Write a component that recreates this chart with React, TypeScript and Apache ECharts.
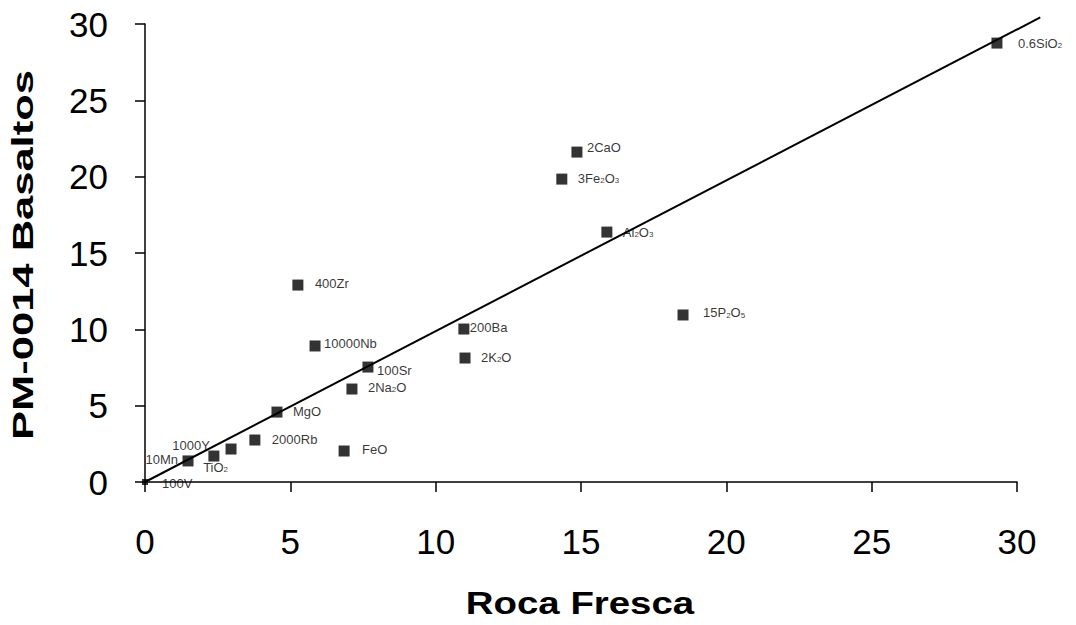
import React, { useEffect, useRef } from "react";
import * as echarts from "echarts";

// Data
const pointNames = [
  "0.6SiO2", "2CaO", "3Fe2O3", "Al2O3", "15P2O5", "400Zr", "10000Nb", "100Sr",
  "2Na2O", "200Ba", "2K2O", "MgO", "2000Rb", "FeO", "10Mn", "1000Y", "TiO2", "100V",
];
const rocaFresca = [
  29.31, 14.86, 14.34, 15.89, 18.51, 5.26, 5.85, 7.67,
  7.12, 10.97, 11.01, 4.54, 3.78, 6.85, 1.48, 2.37, 2.96, 0,
];
const basaltos = [
  28.75, 21.61, 19.84, 16.37, 10.94, 12.9, 8.91, 7.53,
  6.09, 10.02, 8.12, 4.58, 2.75, 2.03, 1.38, 1.7, 2.16, 0,
];
const fitLineX = [0, 30.8];
const fitLineY = [0, 30.43];
const axisMin = 0;
const axisMax = 30;
const axisStep = 5;
const xAxisTitle = "Roca Fresca";
const yAxisTitle = "PM-0014 Basaltos";

// Label placement (pixels, relative to marker centre): dx, dy, text alignment
const labelPlacement: [number, number, string][] = [
  [21, 0, "left"], [10, -5, "left"], [16, -1, "left"], [16, 0, "left"],
  [20, -2, "left"], [17, -2, "left"], [9, -2, "left"], [9, 3, "left"],
  [16, -2, "left"], [6, -2, "left"], [16, -1, "left"], [16, -1, "left"],
  [17, -1, "left"], [18, -2, "left"], [-10, -1, "right"], [-4, -11, "right"],
  [-3, 18, "right"], [17, 1, "left"],
];

const FONT = "Liberation Sans, Arial, sans-serif";

const toRich = (s: string) => s.replace(/([A-Za-z])(\d)/g, "$1{s|$2}");

export default function App() {
  const ref = useRef<HTMLDivElement>(null);
  useEffect(() => {
    if (!ref.current) return;
    const chart = echarts.init(ref.current, null, { renderer: "svg" });
    const scatterData = pointNames.map((name, i) => {
      const size = i === pointNames.length - 1 ? 6 : 11;
      const half = size / 2;
      const [dx, dy, align] = labelPlacement[i];
      return {
        name,
        value: [rocaFresca[i], basaltos[i]],
        symbolSize: size,
        label: {
          show: true,
          position: [half + dx, half + dy],
          align,
          verticalAlign: "middle",
          formatter: toRich(name),
          fontFamily: FONT,
          fontSize: 13,
          color: "#000",
          rich: {
            s: { fontSize: 8, fontFamily: FONT, color: "#000", verticalAlign: "bottom", padding: [4, 0, 0, 0] },
          },
        },
      };
    });
    chart.setOption({
      animation: false,
      backgroundColor: "#fff",
      grid: { left: 145, right: 59, top: 24, bottom: 143, containLabel: false },
      xAxis: {
        type: "value",
        min: axisMin,
        max: axisMax,
        interval: axisStep,
        axisLine: { show: true, onZero: false, lineStyle: { color: "#000", width: 1.5 } },
        axisTick: { show: true, inside: false, length: 10, lineStyle: { color: "#000", width: 1.5 } },
        splitLine: { show: false },
        axisLabel: { fontFamily: FONT, fontSize: 35, color: "#000", margin: 42 },
      },
      yAxis: {
        type: "value",
        min: axisMin,
        max: axisMax,
        interval: axisStep,
        axisLine: { show: true, onZero: false, lineStyle: { color: "#000", width: 1.5 } },
        axisTick: { show: true, inside: false, length: 10, lineStyle: { color: "#000", width: 1.5 } },
        splitLine: { show: false },
        axisLabel: { fontFamily: FONT, fontSize: 35, color: "#000", margin: 37 },
      },
      graphic: [
        {
          type: "text",
          x: 23,
          y: 255,
          rotation: Math.PI / 2,
          scaleX: 1.45,
          style: {
            text: yAxisTitle,
            font: `bold 30px ${FONT}`,
            fill: "#000",
            align: "center",
            verticalAlign: "middle",
          },
        },
        {
          type: "text",
          x: 580,
          y: 603,
          scaleX: 1.2,
          style: {
            text: xAxisTitle,
            font: `bold 32px ${FONT}`,
            fill: "#000",
            align: "center",
            verticalAlign: "middle",
          },
        },
      ],
      series: [
        {
          type: "custom",
          clip: false,
          data: [[fitLineX[0], fitLineY[0], fitLineX[1], fitLineY[1]]],
          encode: { x: [0, 2], y: [1, 3] },
          renderItem: (params: any, api: any) => {
            const p1 = api.coord([api.value(0), api.value(1)]);
            const p2 = api.coord([api.value(2), api.value(3)]);
            return {
              type: "line",
              shape: { x1: p1[0], y1: p1[1], x2: p2[0], y2: p2[1] },
              style: { stroke: "#000", lineWidth: 2 },
            };
          },
          z: 1,
          silent: true,
        },
        {
          type: "scatter",
          symbol: "rect",
          itemStyle: { color: "#000" },
          data: scatterData,
          z: 2,
        },
      ],
    });
    return () => chart.dispose();
  }, []);
  return (
    <div
      ref={ref}
      style={{ position: "absolute", left: 0, top: 0, width: 1076, height: 625, background: "#fff" }}
    />
  );
}
